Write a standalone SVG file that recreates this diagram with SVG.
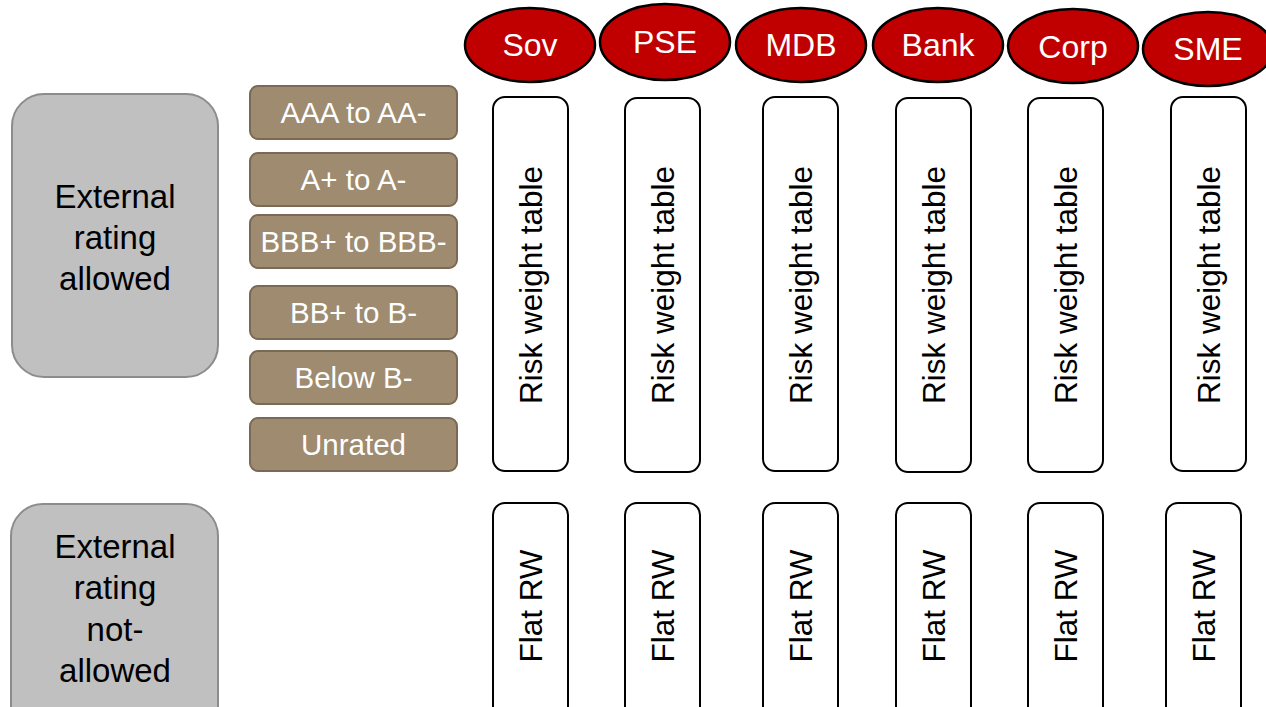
<svg xmlns="http://www.w3.org/2000/svg" width="1266" height="707" viewBox="0 0 1266 707">
  <style>
    text { font-family: "Liberation Sans", Arial, sans-serif; text-anchor: middle; }
    .cat { fill: #c00000; stroke: #000; stroke-width: 2.5; }
    .cat-t { fill: #fff; font-size: 32px; }
    .grp { fill: #c0c0c0; stroke: #8c8c8c; stroke-width: 2; }
    .grp-t { fill: #000; font-size: 33px; }
    .band { fill: #9e8b70; stroke: #7a6a55; stroke-width: 2; }
    .band-t { fill: #fff; font-size: 29.5px; }
    .tbl { fill: #fff; stroke: #000; stroke-width: 2; }
    .tbl-t { fill: #000; font-size: 31.5px; }
  </style>
  <rect width="1266" height="707" fill="#fff"/>

  <!-- exposure classes -->
  <g id="sov"><ellipse class="cat" cx="530" cy="45" rx="65" ry="37"/><text class="cat-t" x="530" y="56">Sov</text></g>
  <g id="pse"><ellipse class="cat" cx="665" cy="42" rx="65" ry="38"/><text class="cat-t" x="665" y="53">PSE</text></g>
  <g id="mdb"><ellipse class="cat" cx="801" cy="45" rx="65" ry="37"/><text class="cat-t" x="801" y="56">MDB</text></g>
  <g id="bank"><ellipse class="cat" cx="938" cy="45" rx="65" ry="37"/><text class="cat-t" x="938" y="56">Bank</text></g>
  <g id="corp"><ellipse class="cat" cx="1073" cy="46" rx="65" ry="37"/><text class="cat-t" x="1073" y="58">Corp</text></g>
  <g id="sme"><ellipse class="cat" cx="1208" cy="49" rx="65" ry="37"/><text class="cat-t" x="1208" y="60">SME</text></g>

  <!-- approach groups -->
  <g id="ext-allowed">
    <rect class="grp" x="12" y="94" width="206" height="283" rx="32"/>
    <text class="grp-t" x="115" y="208">External</text>
    <text class="grp-t" x="115" y="249">rating</text>
    <text class="grp-t" x="115" y="290">allowed</text>
  </g>
  <g id="ext-not-allowed">
    <rect class="grp" x="11" y="504" width="207" height="240" rx="32"/>
    <text class="grp-t" x="115" y="558">External</text>
    <text class="grp-t" x="115" y="599">rating</text>
    <text class="grp-t" x="115" y="641">not-</text>
    <text class="grp-t" x="115" y="682">allowed</text>
  </g>

  <!-- rating bands -->
  <g id="band-aaa"><rect class="band" x="250" y="86" width="207" height="53" rx="8"/><text class="band-t" x="353.5" y="123">AAA to AA-</text></g>
  <g id="band-a"><rect class="band" x="250" y="153" width="207" height="53" rx="8"/><text class="band-t" x="353.5" y="190">A+ to A-</text></g>
  <g id="band-bbb"><rect class="band" x="250" y="215" width="207" height="53" rx="8"/><text class="band-t" x="353.5" y="252">BBB+ to BBB-</text></g>
  <g id="band-bb"><rect class="band" x="250" y="286" width="207" height="53" rx="8"/><text class="band-t" x="353.5" y="323">BB+ to B-</text></g>
  <g id="band-below"><rect class="band" x="250" y="351" width="207" height="53" rx="8"/><text class="band-t" x="353.5" y="388">Below B-</text></g>
  <g id="band-unrated"><rect class="band" x="250" y="418" width="207" height="53" rx="8"/><text class="band-t" x="353.5" y="455">Unrated</text></g>

  <!-- risk weight tables -->
  <g id="rwt-sov"><rect class="tbl" x="493" y="97" width="75" height="374" rx="12"/><text class="tbl-t" transform="translate(530.5,285) rotate(-90)" y="11">Risk weight table</text></g>
  <g id="rwt-pse"><rect class="tbl" x="625" y="98" width="75" height="374" rx="12"/><text class="tbl-t" transform="translate(662.5,285) rotate(-90)" y="11">Risk weight table</text></g>
  <g id="rwt-mdb"><rect class="tbl" x="763" y="97" width="75" height="374" rx="12"/><text class="tbl-t" transform="translate(800.5,285) rotate(-90)" y="11">Risk weight table</text></g>
  <g id="rwt-bank"><rect class="tbl" x="896" y="98" width="75" height="374" rx="12"/><text class="tbl-t" transform="translate(933.5,285) rotate(-90)" y="11">Risk weight table</text></g>
  <g id="rwt-corp"><rect class="tbl" x="1028" y="98" width="75" height="374" rx="12"/><text class="tbl-t" transform="translate(1065.5,285) rotate(-90)" y="11">Risk weight table</text></g>
  <g id="rwt-sme"><rect class="tbl" x="1171" y="97" width="75" height="374" rx="12"/><text class="tbl-t" transform="translate(1208.5,285) rotate(-90)" y="11">Risk weight table</text></g>

  <!-- flat risk weights -->
  <g id="flat-sov"><rect class="tbl" x="493" y="503" width="75" height="216" rx="12"/><text class="tbl-t" transform="translate(530.5,606) rotate(-90)" y="11">Flat RW</text></g>
  <g id="flat-pse"><rect class="tbl" x="625" y="503" width="75" height="216" rx="12"/><text class="tbl-t" transform="translate(662.5,606) rotate(-90)" y="11">Flat RW</text></g>
  <g id="flat-mdb"><rect class="tbl" x="763" y="503" width="75" height="216" rx="12"/><text class="tbl-t" transform="translate(800.5,606) rotate(-90)" y="11">Flat RW</text></g>
  <g id="flat-bank"><rect class="tbl" x="896" y="503" width="75" height="216" rx="12"/><text class="tbl-t" transform="translate(933.5,606) rotate(-90)" y="11">Flat RW</text></g>
  <g id="flat-corp"><rect class="tbl" x="1028" y="503" width="75" height="216" rx="12"/><text class="tbl-t" transform="translate(1065.5,606) rotate(-90)" y="11">Flat RW</text></g>
  <g id="flat-sme"><rect class="tbl" x="1166" y="503" width="75" height="216" rx="12"/><text class="tbl-t" transform="translate(1203.5,606) rotate(-90)" y="11">Flat RW</text></g>

  <g id="connectors"/>
</svg>
